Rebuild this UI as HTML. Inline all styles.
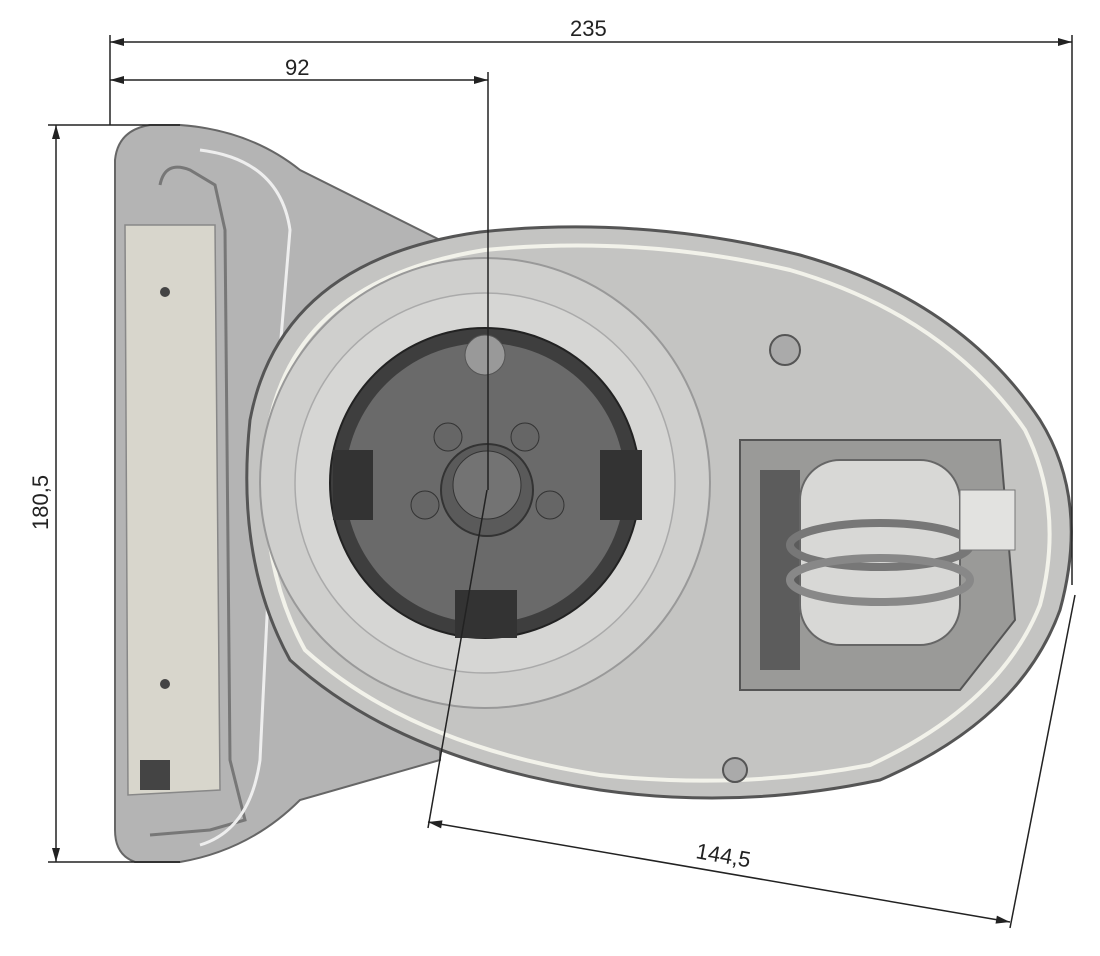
<!DOCTYPE html>
<html><head><style>
html,body{margin:0;padding:0;background:#fff;}
svg{display:block}
text{font-family:"Liberation Sans",sans-serif;font-size:22px;fill:#222}
</style></head><body>
<svg width="1100" height="956" viewBox="0 0 1100 956">
<!-- left bracket -->
<path d="M150 125 L180 125 Q250 130 300 170 L440 240 L440 760 L300 800 Q250 850 180 862 L135 862 Q115 855 115 830 L115 160 Q118 130 150 125 Z" fill="#b4b4b4" stroke="#666" stroke-width="2"/>
<path d="M125 225 L215 225 L220 790 L128 795 Z" fill="#d8d6cc" stroke="#888" stroke-width="1.5"/>
<path d="M160 185 Q165 160 190 170 L215 185 L225 230 L230 760 L245 820 L210 830 L150 835" fill="none" stroke="#777" stroke-width="3"/>
<path d="M200 150 Q280 160 290 230 L280 350 L260 760 Q250 830 200 845" fill="none" stroke="#eee" stroke-width="3"/>
<rect x="140" y="760" width="30" height="30" fill="#444"/>
<circle cx="165" cy="292" r="5" fill="#444"/><circle cx="165" cy="684" r="5" fill="#444"/>
<!-- main body egg -->
<path d="M250 420 Q280 260 480 232 Q640 215 800 255 Q960 300 1040 420 Q1090 500 1060 610 Q1020 720 880 780 Q740 810 600 790 Q400 760 290 660 Q235 560 250 420 Z" fill="#c4c4c2" stroke="#555" stroke-width="3"/>
<path d="M268 430 Q295 280 485 250 Q640 235 790 270 Q945 315 1025 430 Q1065 510 1040 605 Q1000 705 870 765 Q740 790 600 775 Q410 745 305 650 Q255 560 268 430 Z" fill="none" stroke="#f2f2ea" stroke-width="4"/>
<circle cx="485" cy="483" r="225" fill="#cfcfcd" stroke="#999" stroke-width="2"/>
<circle cx="485" cy="483" r="190" fill="#d6d6d4" stroke="#aaa" stroke-width="1.5"/>
<!-- dark disk -->
<circle cx="485" cy="483" r="155" fill="#3e3e3e" stroke="#222" stroke-width="2"/>
<circle cx="485" cy="483" r="140" fill="#6a6a6a"/>
<rect x="333" y="450" width="40" height="70" fill="#333"/>
<rect x="600" y="450" width="42" height="70" fill="#333"/>
<rect x="455" y="590" width="62" height="48" fill="#333"/>
<circle cx="485" cy="355" r="20" fill="#999" stroke="#555"/>
<circle cx="448" cy="437" r="14" fill="#666" stroke="#333"/>
<circle cx="525" cy="437" r="14" fill="#666" stroke="#333"/>
<circle cx="425" cy="505" r="14" fill="#666" stroke="#333"/>
<circle cx="550" cy="505" r="14" fill="#666" stroke="#333"/>
<circle cx="487" cy="490" r="46" fill="#5a5a5a" stroke="#333" stroke-width="2"/>
<circle cx="487" cy="485" r="34" fill="#737373" stroke="#333"/>
<!-- spring assembly -->
<path d="M740 440 L1000 440 L1015 620 L960 690 L740 690 Z" fill="#9a9a98" stroke="#555" stroke-width="2"/>
<rect x="760" y="470" width="40" height="200" fill="#5c5c5c"/>
<rect x="800" y="460" width="160" height="185" rx="40" fill="#d8d8d6" stroke="#666" stroke-width="2"/>
<ellipse cx="880" cy="545" rx="90" ry="22" fill="none" stroke="#777" stroke-width="8"/>
<ellipse cx="880" cy="580" rx="90" ry="22" fill="none" stroke="#888" stroke-width="8"/>
<rect x="960" y="490" width="55" height="60" fill="#e2e2e0" stroke="#777"/>
<circle cx="785" cy="350" r="15" fill="#aaa" stroke="#555" stroke-width="2"/>
<circle cx="735" cy="770" r="12" fill="#aaa" stroke="#555" stroke-width="2"/>
<!-- dimensions -->
<g stroke="#222" stroke-width="1.5" fill="none">
<line x1="110" y1="35" x2="110" y2="125"/>
<line x1="1072" y1="35" x2="1072" y2="585"/>
<line x1="110" y1="42" x2="1072" y2="42"/>
<line x1="110" y1="80" x2="488" y2="80"/>
<line x1="488" y1="72" x2="488" y2="490"/>
<line x1="48" y1="125" x2="180" y2="125"/>
<line x1="48" y1="862" x2="180" y2="862"/>
<line x1="56" y1="125" x2="56" y2="862"/>
<line x1="487" y1="490" x2="428" y2="828"/>
<line x1="1075" y1="595" x2="1010" y2="928"/>
<line x1="428" y1="822" x2="1010" y2="922"/>
</g>
<g fill="#222">
<path d="M110 42 l14 -4 v8 z"/><path d="M1072 42 l-14 -4 v8 z"/>
<path d="M110 80 l14 -4 v8 z"/><path d="M488 80 l-14 -4 v8 z"/>
<path d="M56 125 l-4 14 h8 z"/><path d="M56 862 l-4 -14 h8 z"/>
<path d="M0 0 l14 -4 v8 z" transform="translate(428 822) rotate(9.75)"/>
<path d="M0 0 l-14 -4 v8 z" transform="translate(1010 922) rotate(9.75)"/>
</g>
<text x="570" y="36">235</text>
<text x="285" y="75">92</text>
<text x="0" y="0" transform="translate(48 530) rotate(-90)">180,5</text>
<text x="0" y="0" transform="translate(695 858) rotate(10)">144,5</text>
</svg>
</body></html>
